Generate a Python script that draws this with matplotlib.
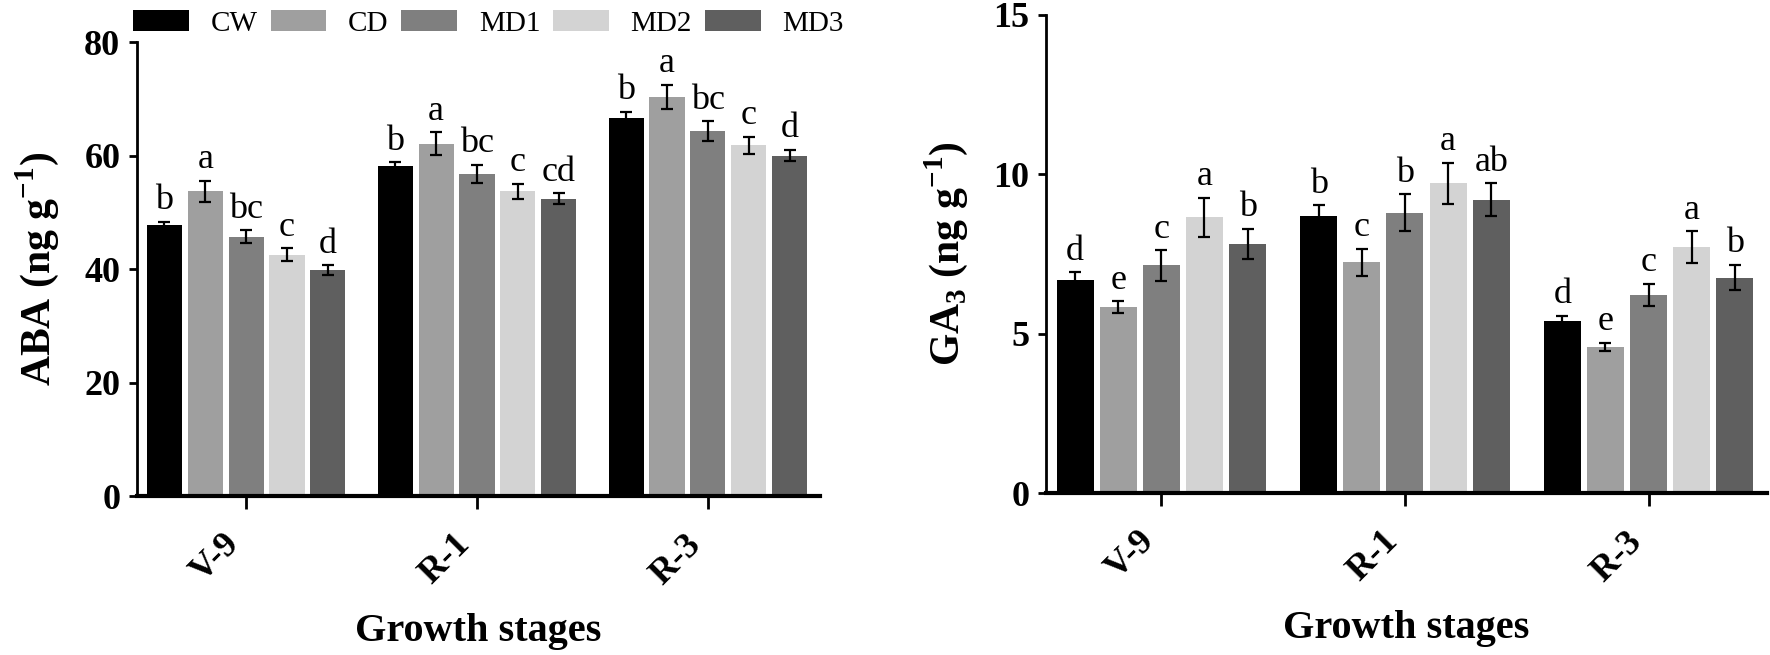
import numpy as np
import matplotlib
matplotlib.use('Agg')
import matplotlib.pyplot as plt
import matplotlib.transforms as mtransforms
from matplotlib.patches import Patch

plt.rcParams['font.family'] = ['Liberation Serif', 'DejaVu Serif']
plt.rcParams['mathtext.fontset'] = 'custom'
plt.rcParams['mathtext.rm'] = 'Liberation Serif'
plt.rcParams['mathtext.bf'] = 'Liberation Serif:bold'

stages = ['V-9', 'R-1', 'R-3']
treatments = ['CW', 'CD', 'MD1', 'MD2', 'MD3']
colors = ['#000000', '#9f9f9f', '#7f7f7f', '#d3d3d3', '#5f5f5f']

# rows = treatments, columns = growth stages
aba_mean = [[47.7, 58.1, 66.7],
            [53.7, 62.1, 70.4],
            [45.7, 56.8, 64.3],
            [42.5, 53.7, 61.8],
            [39.8, 52.4, 60.0]]
aba_err = [[0.65, 0.7, 1.0],
           [1.9, 2.0, 2.1],
           [1.15, 1.6, 1.75],
           [1.15, 1.3, 1.5],
           [0.9, 1.0, 1.0]]
aba_letters = [['b', 'b', 'b'],
               ['a', 'a', 'a'],
               ['bc', 'bc', 'bc'],
               ['c', 'c', 'c'],
               ['d', 'cd', 'd']]

ga_mean = [[6.69, 8.70, 5.40],
           [5.83, 7.24, 4.59],
           [7.14, 8.80, 6.22],
           [8.65, 9.72, 7.71],
           [7.81, 9.20, 6.76]]
ga_err = [[0.23, 0.33, 0.16],
          [0.19, 0.42, 0.12],
          [0.48, 0.58, 0.34],
          [0.62, 0.65, 0.50],
          [0.48, 0.52, 0.40]]
ga_letters = [['d', 'b', 'd'],
              ['e', 'c', 'e'],
              ['c', 'b', 'c'],
              ['a', 'a', 'a'],
              ['b', 'ab', 'b']]

fig = plt.figure(figsize=(17.7, 6.55), dpi=100)
ax1 = fig.add_axes([0.0774, 0.2427, 0.3859, 0.693])
ax2 = fig.add_axes([0.591, 0.2473, 0.4073, 0.7298])

x = np.arange(len(stages))
slot = 0.177
width = 0.152
shift = mtransforms.ScaledTranslation(10 / 72, 0, fig.dpi_scale_trans)


def draw(ax, mean, err, letters, ymax, step, ylabel):
    for i in range(len(treatments)):
        pos = x + (i - 2) * slot
        ax.bar(pos, mean[i], width, color=colors[i], zorder=2)
        ax.errorbar(pos, mean[i], yerr=err[i], fmt='none', ecolor='black',
                    elinewidth=1.6, capsize=4.5, capthick=1.6, zorder=3)
        for j in range(len(stages)):
            ax.annotate(letters[i][j], (pos[j], mean[i][j] + err[i][j]),
                        xytext=(0, 9), textcoords='offset points',
                        ha='center', va='baseline', fontsize=26)
    ax.set_xlim(-0.473, 2.486)
    ax.set_ylim(0, ymax)
    ax.set_yticks(np.arange(0, ymax + 1, step))
    ax.set_xticks(x)
    ax.set_xticklabels(stages, rotation=45, ha='right', fontsize=26,
                       fontweight='bold')
    for lab in ax.get_xticklabels():
        lab.set_transform(lab.get_transform() + shift)
    for lab in ax.get_yticklabels():
        lab.set_fontsize(26)
        lab.set_fontweight('bold')
    ax.spines['top'].set_visible(False)
    ax.spines['right'].set_visible(False)
    ax.spines['left'].set_linewidth(2)
    ax.spines['bottom'].set_linewidth(3)
    ax.tick_params(axis='y', length=6, width=2, pad=6)
    ax.tick_params(axis='x', length=9, width=2, pad=14)
    ax.set_ylabel(ylabel, fontsize=30, fontweight='bold', labelpad=17)
    ax.set_xlabel('Growth stages', fontsize=29, fontweight='bold', labelpad=16)


draw(ax1, aba_mean, aba_err, aba_letters, 80, 20,
     r'ABA (ng g$^{\mathbf{-1}}$)')
draw(ax2, ga_mean, ga_err, ga_letters, 15, 5,
     r'GA$_{\mathbf{3}}$ (ng g$^{\mathbf{-1}}$)')

handles = [Patch(facecolor=c) for c in colors]
fig.legend(handles, treatments, loc='upper left', bbox_to_anchor=(0.0752, 0.985),
           ncol=5, frameon=False, fontsize=21, handlelength=1.9,
           handleheight=0.75, handletextpad=0.75, columnspacing=0.45,
           borderpad=0, borderaxespad=0)

fig.savefig('out.png', dpi=100)
